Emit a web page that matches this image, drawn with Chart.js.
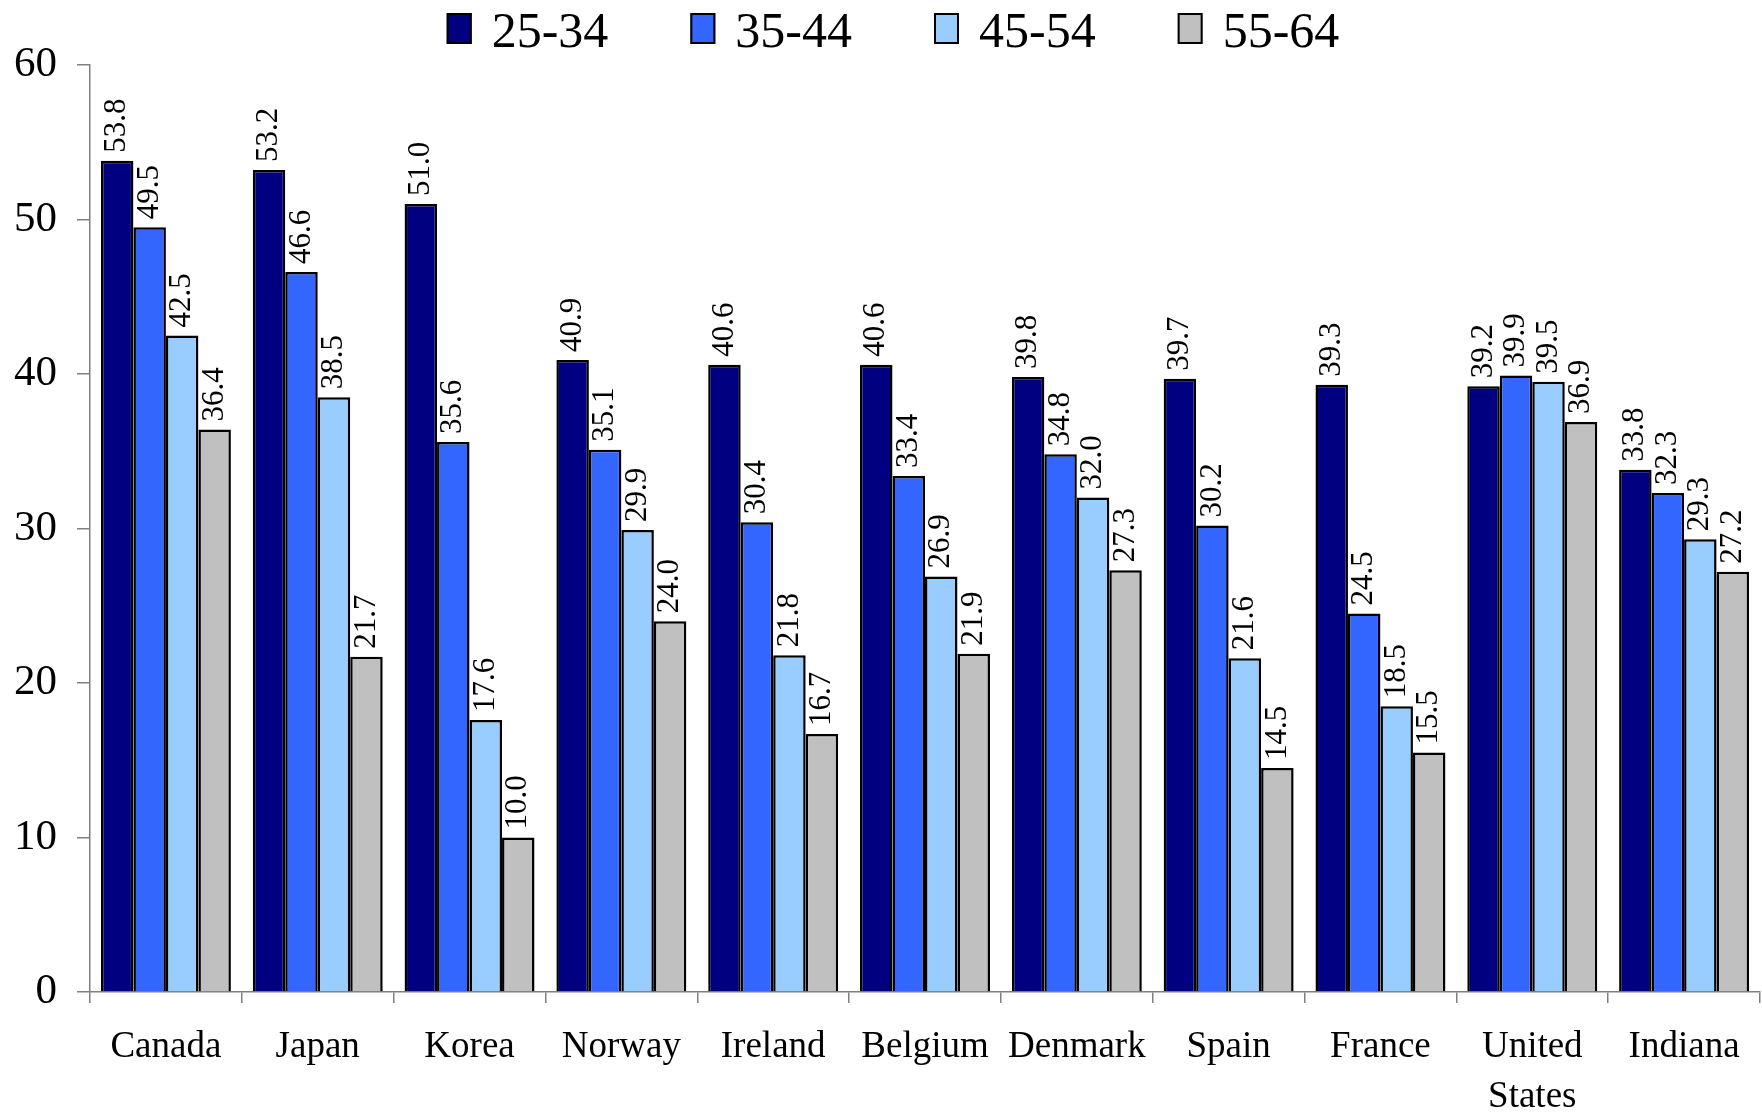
<!DOCTYPE html>
<html>
<head>
<meta charset="utf-8">
<script src="https://cdn.jsdelivr.net/npm/chart.js@4.4.0/dist/chart.umd.min.js"></script>
<style>
  html, body { margin: 0; padding: 0; background: #ffffff; }
  #wrap { width: 1762px; height: 1112px; }
</style>
</head>
<body>
<div id="wrap"><canvas id="c" width="1762" height="1112"></canvas></div>
<script>
const categories = ['Canada', 'Japan', 'Korea', 'Norway', 'Ireland', 'Belgium', 'Denmark', 'Spain', 'France', ['United', 'States'], 'Indiana'];
const seriesLabels = ['25-34', '35-44', '45-54', '55-64'];
const age25_34 = [53.8, 53.2, 51.0, 40.9, 40.6, 40.6, 39.8, 39.7, 39.3, 39.2, 33.8];
const age35_44 = [49.5, 46.6, 35.6, 35.1, 30.4, 33.4, 34.8, 30.2, 24.5, 39.9, 32.3];
const age45_54 = [42.5, 38.5, 17.6, 29.9, 21.8, 26.9, 32.0, 21.6, 18.5, 39.5, 29.3];
const age55_64 = [36.4, 21.7, 10.0, 24.0, 16.7, 21.9, 27.3, 14.5, 15.5, 36.9, 27.2];
const yTicks = [0, 10, 20, 30, 40, 50, 60];

const colors = ['#000080', '#3366FF', '#99CCFF', '#C0C0C0'];
const SERIF = '"Liberation Serif", "Times New Roman", serif';

const valueLabels = {
  id: 'valueLabels',
  afterDatasetsDraw(chart) {
    const ctx = chart.ctx;
    ctx.save();
    ctx.font = '31px ' + SERIF;
    ctx.fillStyle = '#000';
    ctx.textAlign = 'left';
    ctx.textBaseline = 'middle';
    chart.data.datasets.forEach((ds, di) => {
      const meta = chart.getDatasetMeta(di);
      meta.data.forEach((el, i) => {
        ctx.save();
        ctx.translate(el.x, el.y - 8);
        ctx.rotate(-Math.PI / 2);
        ctx.fillText(ds.data[i].toFixed(1), 0, 0);
        ctx.restore();
      });
    });
    ctx.restore();
  }
};

const customLegend = {
  id: 'customLegend',
  afterDraw(chart) {
    const ctx = chart.ctx;
    ctx.save();
    ctx.font = '50px ' + SERIF;
    const boxW = 25, boxH = 31, textGap = 20, itemGap = 82;
    const items = chart.data.datasets.map(ds => ({
      label: ds.label, color: ds.backgroundColor, w: ctx.measureText(ds.label).width
    }));
    let total = 0;
    items.forEach((it, i) => { total += boxW + textGap + it.w + (i > 0 ? itemGap : 0); });
    let x = 893 - total / 2;
    items.forEach(it => {
      ctx.fillStyle = it.color;
      ctx.fillRect(x, 13, boxW, boxH);
      ctx.lineWidth = 2;
      ctx.strokeStyle = '#000';
      ctx.strokeRect(x + 1, 14, boxW - 2, boxH - 2);
      ctx.fillStyle = '#000';
      ctx.textAlign = 'left';
      ctx.textBaseline = 'alphabetic';
      ctx.fillText(it.label, x + boxW + textGap, 47);
      x += boxW + textGap + it.w + itemGap;
    });
    ctx.restore();
  }
};

const seriesData = [age25_34, age35_44, age45_54, age55_64];

new Chart(document.getElementById('c'), {
  type: 'bar',
  data: {
    labels: categories,
    datasets: seriesLabels.map((lab, i) => ({
      label: lab,
      data: seriesData[i],
      backgroundColor: colors[i],
      borderColor: '#000000',
      borderWidth: 2.5,
      borderSkipped: 'bottom',
      categoryPercentage: 0.856,
      barPercentage: 1.0
    }))
  },
  options: {
    responsive: false,
    animation: false,
    devicePixelRatio: 1,
    layout: { padding: { top: 65, left: 0, right: 2, bottom: 0 } },
    plugins: {
      legend: { display: false },
      tooltip: { enabled: false },
      title: { display: false }
    },
    scales: {
      x: {
        grid: {
          display: true,
          drawOnChartArea: false,
          drawTicks: true,
          tickLength: 11,
          color: '#808080',
          lineWidth: 1.5,
          offset: true
        },
        border: { display: true, color: '#808080', width: 1.5 },
        ticks: {
          color: '#000',
          font: { family: SERIF, size: 37, lineHeight: 1.33 },
          padding: 20,
          maxRotation: 0,
          autoSkip: false
        },
        afterFit(scale) { scale.height = 120; }
      },
      y: {
        min: 0,
        max: 60,
        afterBuildTicks(scale) { scale.ticks = yTicks.map(v => ({ value: v })); },
        grid: {
          display: true,
          drawOnChartArea: false,
          drawTicks: true,
          tickLength: 13,
          color: '#808080',
          lineWidth: 1.5
        },
        border: { display: true, color: '#808080', width: 1.5 },
        ticks: {
          color: '#000',
          font: { family: SERIF, size: 43 },
          padding: 20
        },
        afterFit(scale) { scale.width = 90; }
      }
    }
  },
  plugins: [valueLabels, customLegend]
});
</script>
</body>
</html>
